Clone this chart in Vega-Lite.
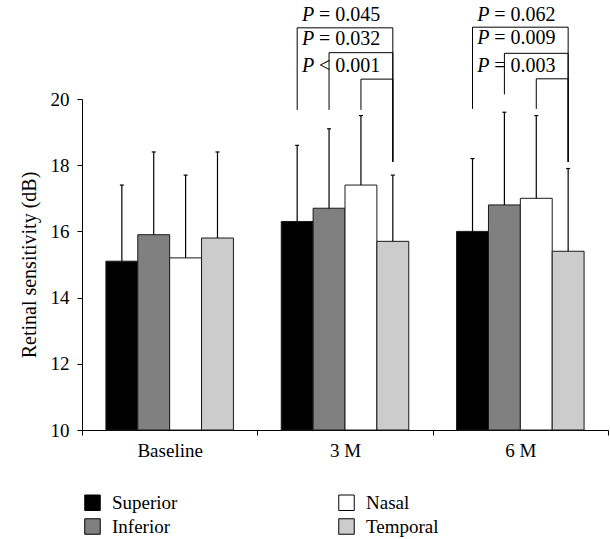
{
  "$schema": "https://vega.github.io/schema/vega-lite/v6.json",
  "width": 526,
  "height": 331,
  "autosize": {"type": "none"},
  "padding": {"left": 82, "top": 99, "right": 2, "bottom": 109},
  "background": "white",
  "config": {
    "font": "Liberation Serif",
    "view": {"stroke": null},
    "text": {"font": "Liberation Serif"},
    "axis": {"domainColor": "#000", "tickColor": "#000", "labelColor": "#000", "titleColor": "#000", "grid": false, "labelFont": "Liberation Serif", "titleFont": "Liberation Serif", "titleFontWeight": "normal", "domainWidth": 1, "tickWidth": 1}
  },
  "datasets": {
    "bars": [
      {"group": "Baseline", "region": "Superior", "value": 15.1, "upper": 17.4},
      {"group": "Baseline", "region": "Inferior", "value": 15.9, "upper": 18.4},
      {"group": "Baseline", "region": "Nasal", "value": 15.2, "upper": 17.7},
      {"group": "Baseline", "region": "Temporal", "value": 15.8, "upper": 18.4},
      {"group": "3 M", "region": "Superior", "value": 16.3, "upper": 18.6},
      {"group": "3 M", "region": "Inferior", "value": 16.7, "upper": 19.1},
      {"group": "3 M", "region": "Nasal", "value": 17.4, "upper": 19.5},
      {"group": "3 M", "region": "Temporal", "value": 15.7, "upper": 17.7},
      {"group": "6 M", "region": "Superior", "value": 16.0, "upper": 18.2},
      {"group": "6 M", "region": "Inferior", "value": 16.8, "upper": 19.6},
      {"group": "6 M", "region": "Nasal", "value": 17.0, "upper": 19.5},
      {"group": "6 M", "region": "Temporal", "value": 15.4, "upper": 17.9}
    ],
    "brackets": [
      {"bracket": "a", "group": "3 M", "region": "Superior", "y": 19.67, "ord": 0},
      {"bracket": "a", "group": "3 M", "region": "Superior", "y": 22.15, "ord": 1},
      {"bracket": "a", "group": "3 M", "region": "Temporal", "y": 22.15, "ord": 2},
      {"bracket": "a", "group": "3 M", "region": "Temporal", "y": 18.1, "ord": 3},
      {"bracket": "b", "group": "3 M", "region": "Inferior", "y": 19.67, "ord": 0},
      {"bracket": "b", "group": "3 M", "region": "Inferior", "y": 21.4, "ord": 1},
      {"bracket": "b", "group": "3 M", "region": "Temporal", "y": 21.4, "ord": 2},
      {"bracket": "b", "group": "3 M", "region": "Temporal", "y": 18.1, "ord": 3},
      {"bracket": "c", "group": "3 M", "region": "Nasal", "y": 19.67, "ord": 0},
      {"bracket": "c", "group": "3 M", "region": "Nasal", "y": 20.6, "ord": 1},
      {"bracket": "c", "group": "3 M", "region": "Temporal", "y": 20.6, "ord": 2},
      {"bracket": "c", "group": "3 M", "region": "Temporal", "y": 18.1, "ord": 3},
      {"bracket": "d", "group": "6 M", "region": "Superior", "y": 19.7, "ord": 0},
      {"bracket": "d", "group": "6 M", "region": "Superior", "y": 22.17, "ord": 1},
      {"bracket": "d", "group": "6 M", "region": "Temporal", "y": 22.17, "ord": 2},
      {"bracket": "d", "group": "6 M", "region": "Temporal", "y": 18.1, "ord": 3},
      {"bracket": "e", "group": "6 M", "region": "Inferior", "y": 20.14, "ord": 0},
      {"bracket": "e", "group": "6 M", "region": "Inferior", "y": 21.38, "ord": 1},
      {"bracket": "e", "group": "6 M", "region": "Temporal", "y": 21.38, "ord": 2},
      {"bracket": "e", "group": "6 M", "region": "Temporal", "y": 18.1, "ord": 3},
      {"bracket": "f", "group": "6 M", "region": "Nasal", "y": 19.7, "ord": 0},
      {"bracket": "f", "group": "6 M", "region": "Nasal", "y": 20.61, "ord": 1},
      {"bracket": "f", "group": "6 M", "region": "Temporal", "y": 20.61, "ord": 2},
      {"bracket": "f", "group": "6 M", "region": "Temporal", "y": 18.1, "ord": 3}
    ],
    "labels": [
      {"group": "3 M", "label": "= 0.045", "y": 22.54},
      {"group": "3 M", "label": "= 0.032", "y": 21.81},
      {"group": "3 M", "label": "< 0.001", "y": 21.01},
      {"group": "6 M", "label": "= 0.062", "y": 22.54},
      {"group": "6 M", "label": "= 0.009", "y": 21.83},
      {"group": "6 M", "label": "= 0.003", "y": 21.0}
    ]
  },
  "layer": [
    {
      "data": {"name": "bars"},
      "mark": {"type": "bar", "stroke": "#1a1a1a", "strokeWidth": 1},
      "encoding": {
        "x": {"field": "group", "type": "nominal", "scale": {"domain": ["Baseline", "3 M", "6 M"], "paddingInner": 0, "paddingOuter": 0},
          "axis": {"title": null, "labelAngle": 0, "labelFontSize": 19, "tickBand": "extent", "tickSize": 5, "labelPadding": 6}},
        "xOffset": {"field": "region", "type": "nominal", "scale": {"domain": ["Superior", "Inferior", "Nasal", "Temporal"], "paddingInner": 0, "paddingOuter": 0.75}},
        "y": {"field": "value", "type": "quantitative", "scale": {"domain": [10, 20], "nice": false, "zero": false},
          "axis": {"title": "Retinal sensitivity (dB)", "titleFontSize": 20, "labelFontSize": 19, "values": [10, 12, 14, 16, 18, 20], "tickSize": 5, "labelPadding": 8, "titlePadding": 11}},
        "y2": {"datum": 10},
        "fill": {"field": "region", "type": "nominal",
          "scale": {"domain": ["Superior", "Inferior", "Nasal", "Temporal"], "range": ["#000000", "#808080", "#ffffff", "#cccccc"]},
          "legend": {"title": null, "orient": "none", "legendX": 1, "legendY": 394, "columns": 2, "columnPadding": 158, "rowPadding": 3, "symbolType": "square", "symbolSize": 240, "symbolStrokeColor": "#000", "symbolStrokeWidth": 1, "labelFontSize": 19, "labelFont": "Liberation Serif", "labelColor": "#000", "labelOffset": 10, "padding": 0}}
      }
    },
    {
      "data": {"name": "bars"},
      "mark": {"type": "rule", "stroke": "#000", "strokeWidth": 1.2},
      "encoding": {
        "x": {"field": "group", "type": "nominal", "scale": {"domain": ["Baseline", "3 M", "6 M"]}},
        "xOffset": {"field": "region", "type": "nominal", "scale": {"domain": ["Superior", "Inferior", "Nasal", "Temporal"]}},
        "y": {"field": "value", "type": "quantitative", "scale": {"domain": [10, 20]}},
        "y2": {"field": "upper"}
      }
    },
    {
      "data": {"name": "bars"},
      "mark": {"type": "tick", "color": "#000", "size": 4, "thickness": 1.2, "opacity": 1},
      "encoding": {
        "x": {"field": "group", "type": "nominal", "scale": {"domain": ["Baseline", "3 M", "6 M"]}},
        "xOffset": {"field": "region", "type": "nominal", "scale": {"domain": ["Superior", "Inferior", "Nasal", "Temporal"]}},
        "y": {"field": "upper", "type": "quantitative", "scale": {"domain": [10, 20]}}
      }
    },
    {
      "data": {"name": "brackets"},
      "mark": {"type": "line", "stroke": "#000", "strokeWidth": 1, "clip": false},
      "encoding": {
        "x": {"field": "group", "type": "nominal", "scale": {"domain": ["Baseline", "3 M", "6 M"]}},
        "xOffset": {"field": "region", "type": "nominal", "scale": {"domain": ["Superior", "Inferior", "Nasal", "Temporal"]}},
        "y": {"field": "y", "type": "quantitative", "scale": {"domain": [10, 20]}},
        "detail": {"field": "bracket"},
        "order": {"field": "ord", "type": "quantitative"}
      }
    },
    {
      "data": {"name": "labels"},
      "mark": {"type": "text", "align": "left", "baseline": "middle", "dx": -43, "fontSize": 20, "fontStyle": "italic", "font": "Liberation Serif", "color": "#000"},
      "encoding": {
        "x": {"field": "group", "type": "nominal", "scale": {"domain": ["Baseline", "3 M", "6 M"]}},
        "y": {"field": "y", "type": "quantitative", "scale": {"domain": [10, 20]}},
        "text": {"value": "P"}
      }
    },
    {
      "data": {"name": "labels"},
      "mark": {"type": "text", "align": "left", "baseline": "middle", "dx": -26, "fontSize": 20, "font": "Liberation Serif", "color": "#000"},
      "encoding": {
        "x": {"field": "group", "type": "nominal", "scale": {"domain": ["Baseline", "3 M", "6 M"]}},
        "y": {"field": "y", "type": "quantitative", "scale": {"domain": [10, 20]}},
        "text": {"field": "label"}
      }
    }
  ]
}
